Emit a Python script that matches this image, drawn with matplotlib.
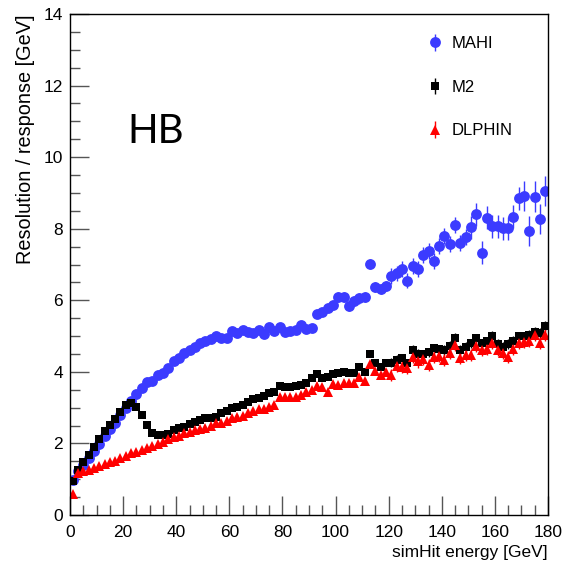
import numpy as np
import matplotlib
matplotlib.use("Agg")
import matplotlib.pyplot as plt
from matplotlib.ticker import MultipleLocator

plt.rcParams['font.family'] = ['Liberation Sans', 'DejaVu Sans']

# bin centres of the simHit energy histogram [GeV]
energy = np.arange(1, 180, 2)

mahi = [0.98, 1.22, 1.40, 1.60, 1.78, 1.98, 2.20, 2.40, 2.58, 2.80, 3.00,
        3.18, 3.38, 3.54, 3.72, 3.74, 3.90, 3.97, 4.12, 4.30, 4.38, 4.52, 4.60, 4.70, 4.80, 4.85, 4.93, 5.00, 4.96, 4.95,
        5.14, 5.08, 5.17, 5.11, 5.09, 5.17, 5.06, 5.24, 5.15, 5.24, 5.11, 5.14, 5.17, 5.31, 5.19, 5.22, 5.63, 5.68, 5.78, 5.87,
        6.10, 6.10, 5.84, 5.99, 6.05, 6.10, 7.01, 6.38, 6.31, 6.41, 6.67, 6.75, 6.87, 6.55, 6.96, 6.88, 7.26, 7.38, 7.10, 7.52,
        7.80, 7.58, 8.10, 7.60, 7.76, 8.04, 8.40, 7.33, 8.31, 8.07, 8.07, 8.01, 8.01, 8.33, 8.85, 8.92, 7.94, 8.90, 8.26, 9.05]

m2 = [0.95, 1.26, 1.47, 1.68, 1.91, 2.11, 2.35, 2.51, 2.68, 2.89, 3.07,
      3.12, 3.03, 2.79, 2.51, 2.28, 2.23, 2.23, 2.26, 2.37, 2.42, 2.47, 2.54, 2.61, 2.65, 2.70, 2.70, 2.75, 2.84, 2.91,
      2.98, 3.03, 3.07, 3.17, 3.23, 3.28, 3.33, 3.40, 3.44, 3.60, 3.58, 3.57, 3.60, 3.62, 3.70, 3.82, 3.94, 3.82, 3.85, 3.94,
      3.97, 3.99, 3.96, 3.96, 4.14, 3.99, 4.50, 4.24, 4.14, 4.24, 4.26, 4.33, 4.38, 4.24, 4.61, 4.51, 4.49, 4.55, 4.66, 4.63,
      4.61, 4.72, 4.96, 4.61, 4.70, 4.80, 4.94, 4.80, 4.85, 5.00, 4.78, 4.70, 4.78, 4.87, 4.99, 4.99, 5.03, 5.12, 5.09, 5.28]

dlphin = [0.58, 1.18, 1.22, 1.27, 1.32, 1.36, 1.42, 1.47, 1.52, 1.60, 1.65,
          1.72, 1.76, 1.82, 1.88, 1.92, 1.98, 2.05, 2.12, 2.17, 2.22, 2.28, 2.33, 2.37, 2.40, 2.44, 2.50, 2.56, 2.58, 2.62,
          2.70, 2.74, 2.78, 2.86, 2.92, 2.95, 2.96, 3.02, 3.06, 3.30, 3.29, 3.31, 3.31, 3.35, 3.45, 3.49, 3.60, 3.57, 3.45, 3.66,
          3.63, 3.70, 3.70, 3.70, 3.85, 3.75, 4.22, 4.03, 3.92, 4.00, 3.92, 4.16, 4.14, 4.10, 4.41, 4.29, 4.35, 4.19, 4.41, 4.45,
          4.32, 4.54, 4.75, 4.38, 4.47, 4.47, 4.72, 4.61, 4.63, 4.80, 4.61, 4.52, 4.41, 4.63, 4.81, 4.84, 4.87, 5.03, 4.81, 5.03]

# statistical uncertainties, per energy band
mahi_err = [0.03] * 30 + [0.08] * 20 + [0.14] * 10 + [0.22] * 15 + [0.32] * 10 + [0.42] * 5
m2_err = [0.03] * 30 + [0.06] * 30 + [0.13] * 30
dlphin_err = [0.03] * 30 + [0.07] * 30 + [0.17] * 30

series = [
    ("MAHI", mahi, mahi_err, "o", "#3b3bff", 7.8),
    ("M2", m2, m2_err, "s", "black", 6.4),
    ("DLPHIN", dlphin, dlphin_err, "^", "#ff0000", 6.8),
]

fig = plt.figure(figsize=(5.63, 5.63), dpi=100)
ax = fig.add_axes([70 / 563, 48 / 563, 478 / 563, 501 / 563])

for name, vals, errs, mk, col, ms in series:
    ax.errorbar(energy, vals, yerr=errs, fmt=mk, color=col, ms=ms,
                mec=col, mew=0, elinewidth=1.0, capsize=0, label=name)

ax.set_xlim(0, 180)
ax.set_ylim(0, 14)
ax.xaxis.set_major_locator(MultipleLocator(20))
ax.xaxis.set_minor_locator(MultipleLocator(5))
ax.yaxis.set_major_locator(MultipleLocator(2))
ax.yaxis.set_minor_locator(MultipleLocator(0.5))
ax.tick_params(which='both', direction='in', top=False, right=False,
               color='#555555', labelsize=12.5)
ax.tick_params(which='major', length=14, width=1)
ax.tick_params(which='minor', length=7, width=1)
ax.tick_params(axis='x', pad=7)
ax.tick_params(axis='y', pad=5)
for sp in ax.spines.values():
    sp.set_linewidth(1.0)

ax.set_xlabel("simHit energy [GeV]", fontsize=12.5, loc='right', labelpad=4)
ax.set_ylabel("Resolution / response [GeV]", fontsize=14.3, loc='top', labelpad=6)

ax.text(0.12, 0.742, "HB", transform=ax.transAxes, fontsize=29,
        family=['Lato', 'DejaVu Sans'], va='baseline', ha='left')

ax.legend(loc='upper left', bbox_to_anchor=(427 / 563, 1 - 36 / 563),
          bbox_transform=fig.transFigure, frameon=False, fontsize=12,
          handlelength=1.0, handletextpad=0.5, labelspacing=1.72,
          borderpad=0, borderaxespad=0)

fig.savefig("out.png", dpi=100)
